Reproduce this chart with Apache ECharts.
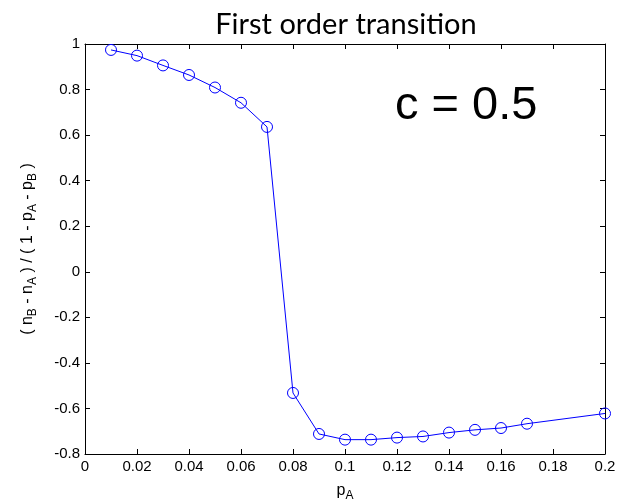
<!DOCTYPE html>
<html>
<head>
<meta charset="utf-8">
<script src="https://cdn.jsdelivr.net/npm/echarts@6/dist/echarts.min.js"></script>
<style>
  html, body { margin: 0; padding: 0; background: #fff; }
  #chart { width: 621px; height: 501px; }
</style>
</head>
<body>
<div id="chart"></div>
<script>
// Order parameter versus p_A across the first order transition
const pA = [0.01, 0.02, 0.03, 0.04, 0.05, 0.06, 0.07, 0.08, 0.09, 0.10, 0.11, 0.12, 0.13, 0.14, 0.15, 0.16, 0.17, 0.20];
const order = [0.974, 0.949, 0.906, 0.864, 0.809, 0.742, 0.636, -0.532, -0.712, -0.737, -0.737, -0.728, -0.723, -0.706, -0.694, -0.686, -0.667, -0.622];

const xTicks = { min: 0, max: 0.2, step: 0.02 };
const yTicks = { min: -0.8, max: 1, step: 0.2 };

const chart = echarts.init(document.getElementById('chart'), null, { renderer: 'canvas' });

const axisFont = "'Liberation Sans', Arial, sans-serif";
const lineStyle = { color: '#000', width: 1 };
const mainStyle = { fontSize: 16, fontFamily: axisFont, color: '#000' };
const subStyle = { fontSize: 12, fontFamily: axisFont, color: '#000', padding: [11, 0, 0, 0] };

function frameAxis(t, pos, showLabels, extra) {
  return Object.assign({
    type: 'value',
    position: pos,
    min: t.min,
    max: t.max,
    interval: t.step,
    axisLine: { show: true, onZero: false, lineStyle: lineStyle },
    axisTick: { show: true, inside: true, length: 5, lineStyle: lineStyle },
    axisLabel: {
      show: showLabels,
      color: '#000',
      fontFamily: axisFont,
      fontSize: 15,
      margin: 5
    },
    splitLine: { show: false }
  }, extra || {});
}

const option = {
  animation: false,
  backgroundColor: '#fff',
  title: {
    text: 'First order transition',
    left: 341,
    textAlign: 'center',
    top: 5,
    textStyle: {
      fontFamily: "Lato, 'Open Sans', sans-serif",
      fontWeight: 'normal',
      fontSize: 29,
      color: '#000'
    }
  },
  grid: { left: 85, right: 16, top: 44, bottom: 47, containLabel: false, outerBoundsMode: 'none' },
  xAxis: [
    frameAxis(xTicks, 'bottom', true, {
      name: '{m|p}{s|A}',
      nameLocation: 'middle',
      nameGap: 25,
      nameTextStyle: { color: '#000', fontFamily: axisFont, fontSize: 16, rich: { m: mainStyle, s: subStyle } }
    }),
    frameAxis(xTicks, 'top', false)
  ],
  yAxis: [
    frameAxis(yTicks, 'left', true, {
      name: '{m|( n}{s|B}{m| - n}{s|A}{m| ) / ( 1 - p}{s|A}{m| - p}{s|B}{m| )}',
      nameLocation: 'middle',
      nameGap: 46,
      nameRotate: 90,
      nameTextStyle: { color: '#000', fontFamily: axisFont, fontSize: 16, rich: { m: mainStyle, s: subStyle } }
    }),
    frameAxis(yTicks, 'right', false)
  ],
  graphic: [{
    type: 'text',
    left: 395,
    top: 83,
    style: {
      text: 'c = 0.5',
      font: "47px 'Liberation Sans', Arial, sans-serif",
      fill: '#000'
    }
  }],
  series: [{
    type: 'line',
    data: pA.map((x, i) => [x, order[i]]),
    symbol: 'circle',
    symbolSize: 11,
    showAllSymbol: true,
    lineStyle: { color: '#0000ff', width: 1 },
    itemStyle: { color: 'rgba(0,0,0,0)', borderColor: '#0000ff', borderWidth: 1 },
    emphasis: { disabled: true }
  }]
};

chart.setOption(option);
</script>
</body>
</html>
